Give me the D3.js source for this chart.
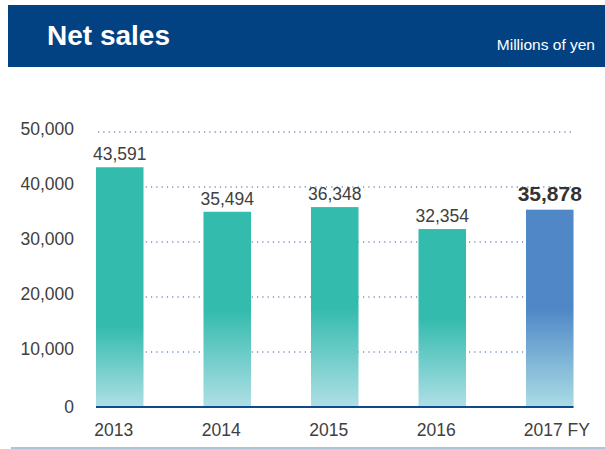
<!DOCTYPE html>
<html>
<head>
<meta charset="utf-8">
<script src="https://cdn.jsdelivr.net/npm/d3@7"></script>
<style>
  html, body { margin: 0; padding: 0; background: #fff; }
  svg { display: block; font-family: "Liberation Sans", Arial, Helvetica, sans-serif; }
</style>
</head>
<body>
<svg id="chart" width="605" height="449"></svg>
<script>
// Net sales by fiscal year (millions of yen)
const years = ["2013", "2014", "2015", "2016", "2017 FY"];
const netSales = [43591, 35494, 36348, 32354, 35878];
const yTicks = [0, 10000, 20000, 30000, 40000, 50000];
const currentYear = "2017 FY";

const svg = d3.select("#chart");
const fmt = d3.format(",");

// Header band
svg.append("rect")
  .attr("x", 8).attr("y", 5).attr("width", 597).attr("height", 62)
  .attr("fill", "#024283");
svg.append("text")
  .attr("x", 47).attr("y", 45)
  .attr("fill", "#fff").attr("font-size", 28).attr("font-weight", "bold")
  .text("Net sales");
svg.append("text")
  .attr("x", 595).attr("y", 49.5).attr("text-anchor", "end")
  .attr("fill", "#fff").attr("font-size", 15.5)
  .text("Millions of yen");

// Scales
const x = d3.scaleBand()
  .domain(years)
  .range([36, 633.5])
  .paddingInner(0.558)
  .paddingOuter(0.558);

const y = d3.scaleLinear()
  .domain([0, 50000])
  .range([407, 132]);

// Bar gradients: solid colour at the top fading to pale aqua at the base
const defs = svg.append("defs");
function makeGradient(id, top, bottom, solidTo) {
  const g = defs.append("linearGradient")
    .attr("id", id).attr("x1", 0).attr("y1", 0).attr("x2", 0).attr("y2", 1);
  g.append("stop").attr("offset", 0).attr("stop-color", top);
  g.append("stop").attr("offset", solidTo).attr("stop-color", top);
  g.append("stop").attr("offset", 1).attr("stop-color", bottom);
}
makeGradient("fade-teal", "#33bbad", "#afdfe6", 0.5);
makeGradient("fade-teal-tall", "#33bbad", "#afdfe6", 0.66);
makeGradient("fade-blue", "#4f87c7", "#aadde5", 0.5);

function fillFor(d, i) {
  if (d === currentYear) return "url(#fade-blue)";
  return i === 0 ? "url(#fade-teal-tall)" : "url(#fade-teal)";
}

// Dotted gridlines
const xLeft = x(years[0]);
const xRight = x(years[years.length - 1]) + x.bandwidth();
svg.append("g")
  .selectAll("line")
  .data(yTicks.filter(t => t > 0))
  .join("line")
  .attr("x1", xLeft + 2).attr("x2", xRight)
  .attr("y1", d => y(d)).attr("y2", d => y(d))
  .attr("stroke", "#2b5b9b")
  .attr("stroke-width", 1.2)
  .attr("stroke-dasharray", "1.2,4.1");

// Y-axis labels
const yAxis = d3.axisLeft(y).tickValues(yTicks).tickFormat(fmt).tickSize(0).tickPadding(0);
svg.append("g")
  .attr("transform", "translate(74,0)")
  .call(yAxis)
  .call(g => g.select(".domain").remove())
  .call(g => g.selectAll("text")
    .attr("font-size", 17.5)
    .attr("fill", "#404040")
    .attr("font-family", "'Liberation Sans', Arial, sans-serif")
    .attr("y", d => d === 0 ? 0 : -3));

// Bars
svg.append("g")
  .selectAll("rect")
  .data(years)
  .join("rect")
  .attr("x", d => x(d))
  .attr("width", x.bandwidth())
  .attr("y", (d, i) => y(netSales[i]))
  .attr("height", (d, i) => y(0) - y(netSales[i]))
  .attr("fill", (d, i) => fillFor(d, i));

// Value labels
svg.append("g")
  .selectAll("text")
  .data(years)
  .join("text")
  .attr("x", d => x(d) + x.bandwidth() / 2)
  .attr("y", (d, i) => y(netSales[i]) - (d === currentYear ? 9 : 7))
  .attr("text-anchor", "middle")
  .attr("font-size", d => d === currentYear ? 21 : 17.5)
  .attr("font-weight", d => d === currentYear ? "bold" : "normal")
  .attr("fill", d => d === currentYear ? "#333" : "#404040")
  .text((d, i) => fmt(netSales[i]));

// Baseline axis with category labels
const xAxis = d3.axisBottom(x).tickSize(0).tickPadding(0);
const xg = svg.append("g")
  .attr("transform", `translate(0,${y(0)})`)
  .call(xAxis);
xg.select(".domain").remove();
xg.selectAll("text")
  .attr("font-size", 17.5)
  .attr("fill", "#404040")
  .attr("font-family", "'Liberation Sans', Arial, sans-serif")
  .attr("dy", null)
  .attr("y", 29)
  .attr("dx", d => d === currentYear ? 7 : -6);

svg.append("line")
  .attr("x1", xLeft).attr("x2", xRight)
  .attr("y1", y(0)).attr("y2", y(0))
  .attr("stroke", "#0f4a8a").attr("stroke-width", 2);

// Footer rule
svg.append("line")
  .attr("x1", 11).attr("x2", 605)
  .attr("y1", 448).attr("y2", 448)
  .attr("stroke", "#8db0d2").attr("stroke-width", 1.5);
</script>
</body>
</html>
